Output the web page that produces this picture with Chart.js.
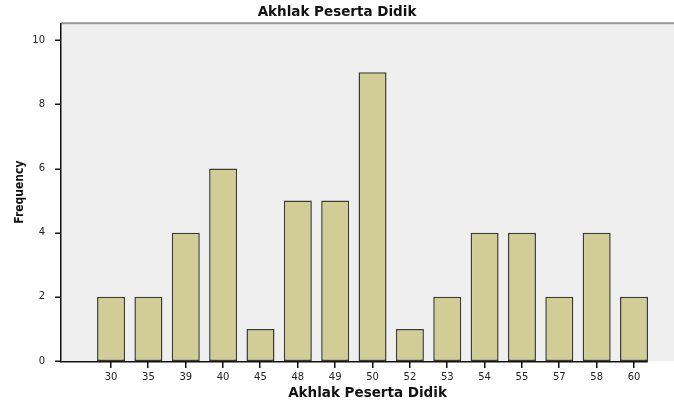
<!DOCTYPE html>
<html>
<head>
<meta charset="utf-8">
<script src="https://cdn.jsdelivr.net/npm/chart.js@4.4.0/dist/chart.umd.min.js"></script>
<style>
  html, body { margin: 0; padding: 0; background: #fff; }
  #wrap { width: 674px; height: 403px; }
</style>
</head>
<body>
<div id="wrap"><canvas id="c"></canvas></div>
<script>
// data
var categories = ['30', '35', '39', '40', '45', '48', '49', '50', '52', '53', '54', '55', '57', '58', '60'];
var frequency = [2, 2, 4, 6, 1, 5, 5, 9, 1, 2, 4, 4, 2, 4, 2];
var yTicks = [0, 2, 4, 6, 8, 10];

var points = categories.map(function (c, i) {
    return { x: i, y: frequency[i] };
});

// grey plot panel like SPSS, the shortened x axis line and the tick marks
var panel = {
    id: 'panel',
    beforeDraw: function (chart) {
        var a = chart.chartArea, ctx = chart.ctx;
        ctx.save();
        ctx.fillStyle = '#efefef';
        ctx.fillRect(a.left, a.top, chart.width - a.left, a.bottom - a.top);
        ctx.fillStyle = '#999';
        ctx.fillRect(a.left, a.top - 1, chart.width - a.left, 2);
        ctx.restore();
    },
    afterDraw: function (chart) {
        var a = chart.chartArea, ctx = chart.ctx;
        var sx = chart.scales.x, sy = chart.scales.y;
        var xEnd = sx.getPixelForValue(categories.length - 0.63);
        var bottom = Math.round(a.bottom);
        var left = Math.round(a.left);
        ctx.save();
        ctx.fillStyle = '#111';
        ctx.fillRect(left - 1, bottom, xEnd - left + 1, 1.5);
        ctx.fillRect(left - 1, Math.round(a.top), 1.5, bottom - Math.round(a.top) + 1);
        // x tick marks under every bar centre
        sx.ticks.forEach(function (t) {
            var px = Math.round(sx.getPixelForValue(t.value));
            ctx.fillRect(px - 1, bottom, 1.5, 7);
        });
        yTicks.forEach(function (v) {
            ctx.fillRect(left - 6, Math.round(sy.getPixelForValue(v)) - 0.5, 6, 1.5);
        });
        ctx.restore();
    }
};

var font = 'DejaVu Sans, Verdana, Arial';

new Chart(document.getElementById('c'), {
    type: 'bar',
    data: {
        datasets: [{
            data: points,
            backgroundColor: '#d2cd96',
            borderColor: '#3c3c32',
            borderWidth: 1.5,
            borderSkipped: false,
            barPercentage: 0.75,
            categoryPercentage: 1
        }]
    },
    options: {
        responsive: true,
        maintainAspectRatio: false,
        animation: false,
        layout: { padding: 0 },
        plugins: {
            legend: { display: false },
            tooltip: { enabled: false },
            title: {
                display: true,
                text: 'Akhlak Peserta Didik',
                color: '#111',
                font: { family: font, size: 13.5, weight: 'bold' },
                padding: { top: 4, bottom: 3 }
            }
        },
        scales: {
            x: {
                type: 'linear',
                offset: false,
                min: -1.34,
                max: 15.07,
                afterBuildTicks: function (scale) {
                    scale.ticks = categories.map(function (c, i) { return { value: i }; });
                },
                afterFit: function (scale) { scale.height = 42; },
                ticks: {
                    autoSkip: false,
                    maxRotation: 0,
                    color: '#222',
                    padding: 2,
                    font: { family: font, size: 10 },
                    callback: function (v) { return categories[v]; }
                },
                grid: { display: false },
                border: { display: false },
                title: {
                    display: true,
                    text: 'Akhlak Peserta Didik',
                    color: '#111',
                    font: { family: font, size: 13.5, weight: 'bold' },
                    padding: { top: 2, bottom: 1 }
                }
            },
            y: {
                min: 0,
                max: 10.53,
                afterBuildTicks: function (scale) {
                    scale.ticks = yTicks.map(function (v) { return { value: v }; });
                },
                afterFit: function (scale) { scale.width = 61; },
                ticks: {
                    color: '#222',
                    padding: 8,
                    font: { family: font, size: 10 }
                },
                grid: { display: false },
                border: { display: false },
                title: {
                    display: true,
                    text: 'Frequency',
                    color: '#111',
                    font: { family: 'DejaVu Sans Condensed, DejaVu Sans', size: 12, weight: 'bold' },
                    padding: { top: 13, bottom: 0 }
                }
            }
        }
    },
    plugins: [panel]
});
</script>
</body>
</html>
